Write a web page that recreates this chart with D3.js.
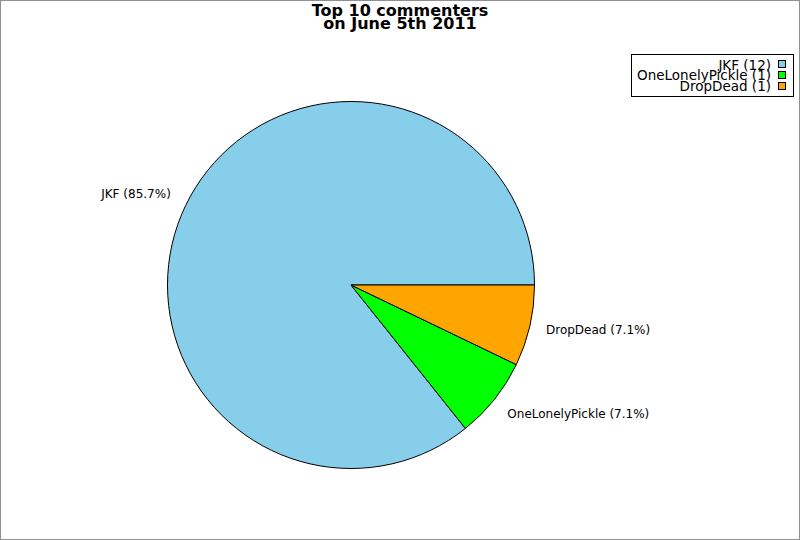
<!DOCTYPE html>
<html><head><meta charset="utf-8">
<script src="https://cdn.jsdelivr.net/npm/d3@7"></script>
<style>body{margin:0;background:#fff}svg{display:block}text{font-family:"DejaVu Sans",sans-serif}</style>
</head><body>
<script>
const categories = ["JKF", "OneLonelyPickle", "DropDead"];
const values = [12, 1, 1];
const colors = ["#87ceeb", "#00ff00", "#ffa500"];
const titleLines = ["Top 10 commenters", "on June 5th 2011"];

const W = 800, H = 540;
const svg = d3.select("body").append("svg").attr("width", W).attr("height", H);
svg.append("rect").attr("x", 0.5).attr("y", 0.5).attr("width", W - 1).attr("height", H - 1)
  .attr("fill", "#fff").attr("stroke", "#909090");

titleLines.forEach((t, i) => {
  svg.append("text").attr("x", 400).attr("y", 15.5 + i * 13.2).attr("text-anchor", "middle")
    .attr("font-weight", "bold").attr("font-size", 16).text(t);
});

const cx = 351, cy = 285, R = 183.5;
const data = categories.map((c, i) => ({name: c, value: values[i], color: colors[i]}));
const total = d3.sum(values);
// counterclockwise from east
const pie = d3.pie().value(d => d.value).sort(null).startAngle(Math.PI / 2).endAngle(Math.PI / 2 - 2 * Math.PI);
const arcs = pie(data);
const arc = d3.arc().innerRadius(0).outerRadius(R);
const g = svg.append("g").attr("transform", `translate(${cx},${cy})`);
g.selectAll("path").data(arcs).join("path")
  .attr("d", arc).attr("fill", d => d.data.color).attr("stroke", "#000").attr("stroke-width", 1);

const LR = 200;
g.selectAll("text.lbl").data(arcs).join("text").attr("class", "lbl")
  .attr("font-size", 12)
  .each(function(d) {
    const a = (d.startAngle + d.endAngle) / 2;
    const sx = Math.sin(a), sy = -Math.cos(a);
    const x = LR * sx, y = LR * sy;
    let dy = "0.35em";
    if (sy < -0.3) dy = "0em";
    else if (sy > 0.3) dy = "0.73em";
    d3.select(this).attr("x", x).attr("y", y).attr("dy", dy)
      .attr("text-anchor", x < 0 ? "end" : "start");
  })
  .text(d => `${d.data.name} (${(d.data.value / total * 100).toFixed(1)}%)`);

// legend
const lg = svg.append("g");
lg.append("rect").attr("x", 631.5).attr("y", 54.5).attr("width", 162).attr("height", 42)
  .attr("fill", "#fff").attr("stroke", "#000");
data.forEach((d, i) => {
  lg.append("rect").attr("x", 778.5).attr("y", 60.5 + i * 11).attr("width", 7).attr("height", 7)
    .attr("fill", d.color).attr("stroke", "#000");
  lg.append("text").attr("x", 771).attr("y", 69.5 + i * 10.7).attr("text-anchor", "end")
    .attr("font-size", 13.5).text(`${d.name} (${d.value})`);
});
</script>
</body></html>
